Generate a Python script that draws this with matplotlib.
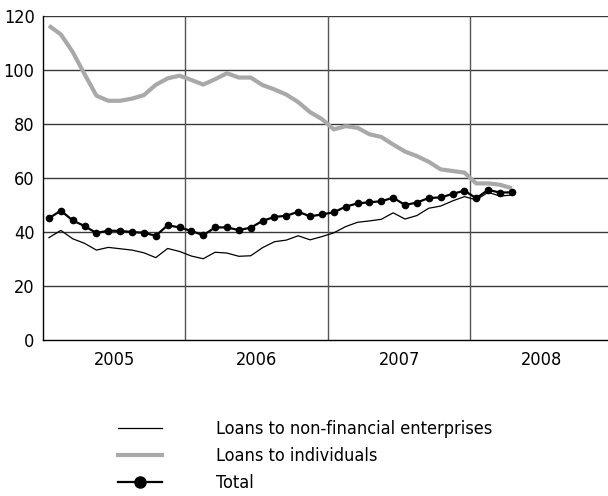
import matplotlib
matplotlib.use("Agg")
import matplotlib.pyplot as plt
import numpy as np
from matplotlib.lines import Line2D

plt.rcParams['font.family'] = ['DejaVu Sans']
plt.rcParams['font.stretch'] = 'condensed'

# monthly data, Jan 2005 .. Apr 2008
YEARS = ['2005', '2006', '2007', '2008']
NON_FIN = [37.9, 40.6, 37.5, 35.8, 33.3, 34.3, 33.8, 33.3, 32.3, 30.5,
           33.9, 32.8, 31.1, 30.1, 32.5, 32.2, 31.0, 31.2, 34.2, 36.4,
           37.0, 38.6, 37.1, 38.3, 39.7, 42.0, 43.6, 44.1, 44.7, 47.1,
           44.8, 46.1, 48.8, 49.6, 51.5, 53.1, 51.9, 54.7, 53.3, 53.7]
INDIVIDUALS = [116.4, 113.2, 106.7, 98.5, 90.5, 88.6, 88.6, 89.4, 90.7, 94.5,
               96.9, 97.9, 96.3, 94.6, 96.6, 98.8, 97.2, 97.2, 94.4, 92.8,
               90.9, 88.1, 84.4, 81.8, 78.0, 79.2, 78.6, 76.2, 75.2, 72.4,
               69.8, 68.1, 66.0, 63.2, 62.6, 62.0, 58.0, 58.0, 57.5, 56.2]
TOTAL = [45.1, 47.9, 44.3, 42.2, 39.6, 40.5, 40.4, 40.0, 39.7, 38.6,
         42.5, 41.7, 40.4, 38.8, 41.7, 41.7, 40.7, 41.6, 44.1, 45.6,
         46.0, 47.5, 45.8, 46.5, 47.3, 49.4, 50.6, 51.0, 51.4, 52.7,
         50.0, 50.9, 52.6, 52.8, 54.1, 55.3, 52.5, 55.6, 54.6, 54.7]
LABELS = ['Loans to non-financial enterprises', 'Loans to individuals', 'Total']

GRAY = '#a9a9a9'
x = np.arange(len(TOTAL)) + 0.5

fig = plt.figure(figsize=(6.08, 4.96), dpi=100)
ax = fig.add_axes([43 / 608, 1 - 340 / 496, 1 - 43 / 608, (340 - 16) / 496])

for v in range(20, 121, 20):
    ax.axhline(v, color='#3a3a3a', lw=1.0, zorder=1)
for m in (12, 24, 36):
    ax.axvline(m, color='#555555', lw=1.0, zorder=1)

ax.plot(x, NON_FIN, color='black', lw=0.9, zorder=3)
ax.plot(x, INDIVIDUALS, color=GRAY, lw=3.0, zorder=2, solid_capstyle='butt')
ax.plot(x, TOTAL, color='black', lw=1.6, marker='o', ms=4.5, zorder=4)

ax.set_xlim(0, 47.6)
ax.set_ylim(0, 120)
ax.set_yticks(range(0, 121, 20))
ax.set_xticks([])
ax.set_xticks([6, 18, 30, 42], minor=True)
ax.set_xticklabels(YEARS, minor=True)
ax.tick_params(axis='both', which='both', length=0, labelsize=13)
ax.tick_params(axis='y', pad=6)
ax.tick_params(axis='x', which='minor', pad=8)

for s in ('top', 'right'):
    ax.spines[s].set_visible(False)
for s in ('left', 'bottom'):
    ax.spines[s].set_color('black')
    ax.spines[s].set_linewidth(1.0)

handles = [
    Line2D([], [], color='black', lw=0.9),
    Line2D([], [], color=GRAY, lw=3.0),
    Line2D([], [], color='black', lw=1.6, marker='o', ms=8),
]
fig.legend(handles, LABELS, loc='upper left', bbox_to_anchor=(102 / 608, 1 - 404 / 496),
           frameon=False, fontsize=13, handlelength=2.4, handletextpad=3.0,
           labelspacing=0.5)

fig.savefig('out.png', dpi=100)
